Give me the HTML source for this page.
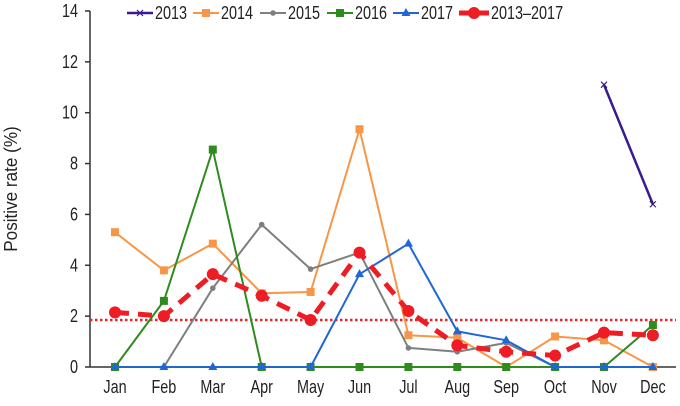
<!DOCTYPE html>
<html><head><meta charset="utf-8"><style>
body{margin:0;background:#fff}
svg{display:block;font-family:"Liberation Sans Narrow","Liberation Sans",sans-serif}
</style></head><body>
<svg id="c" width="680" height="406">
<text id="yt" x="17" y="189" font-size="18" fill="#222" text-anchor="middle" transform="rotate(-90 17 189)">Positive rate (%)</text>
</svg>
<script>
const months=["Jan","Feb","Mar","Apr","May","Jun","Jul","Aug","Sep","Oct","Nov","Dec"];
const yTicks=[0,2,4,6,8,10,12,14];
const s2013=[null,null,null,null,null,null,null,null,null,null,11.1,6.4];
const s2014=[5.3,3.8,4.85,2.9,2.95,9.35,1.25,1.15,0,1.2,1.05,0];
const s2015=[null,0,3.1,5.6,3.85,4.5,0.75,0.6,0.95,0,0,0];
const s2016=[0,2.6,8.55,0,0,0,0,0,0,0,0,1.65];
const s2017=[0,0,0,0,0,3.65,4.85,1.4,1.05,0,0,0];
const sAll=[2.15,2.0,3.65,2.8,1.85,4.5,2.2,0.85,0.6,0.45,1.35,1.25];
const refLine=1.85;
const NS="http://www.w3.org/2000/svg";
const svg=document.getElementById('c');
const X=i=>115+i*48.9;
const Y=v=>367-v*25.43;
function mk(t,a,p){const e=document.createElementNS(NS,t);for(const k in a)e.setAttribute(k,a[k]);(p||svg).appendChild(e);return e;}
function narrow(t,f){const w=t.getComputedTextLength();t.setAttribute('textLength',w*(f||0.8));t.setAttribute('lengthAdjust','spacingAndGlyphs');}
narrow(document.getElementById('yt'),0.95);
let ax=mk('line',{x1:90,y1:11,x2:90,y2:367,stroke:'#333','stroke-width':1.5});


let bx=mk('line',{x1:90,y1:367,x2:676,y2:367,stroke:'#333','stroke-width':1.5});


yTicks.forEach(v=>{
 mk('line',{x1:85,y1:Y(v),x2:90,y2:Y(v),stroke:'#333','stroke-width':1.5});
 const t=mk('text',{x:78,y:Y(v)+6,'font-size':18,'text-anchor':'end',fill:'#222'});
 t.textContent=v;
 
 
 narrow(t);
});
months.forEach((m,i)=>{
 const t=mk('text',{x:X(i),y:393,'font-size':18,'text-anchor':'middle',fill:'#222'});
 t.textContent=m;
 
 
 narrow(t);
});
let rl=mk('line',{x1:90,y1:Y(refLine),x2:676,y2:Y(refLine),stroke:'#e8242a','stroke-width':2.5,'stroke-dasharray':'2.5 2.5'});


function marker(g,type,x,y,c){
 if(type==='sq')mk('rect',{x:x-4,y:y-4,width:8,height:8,fill:c},g);
 else if(type==='dot')mk('circle',{cx:x,cy:y,r:2.8,fill:c},g);
 else if(type==='tri')mk('path',{d:`M${x} ${y-5}L${x+4.5} ${y+3}L${x-4.5} ${y+3}Z`,fill:c},g);
 else if(type==='x'){mk('path',{d:`M${x-3} ${y-3}L${x+3} ${y+3}M${x+3} ${y-3}L${x-3} ${y+3}`,stroke:c,'stroke-width':1.2},g);}
 else if(type==='big')mk('circle',{cx:x,cy:y,r:6,fill:c},g);
}
function series(data,c,w,type,name,dash){
 const g=mk('g',{});
 
 
 let d='',pen=false;
 data.forEach((v,i)=>{if(v==null){pen=false;return;}d+=(pen?'L':'M')+X(i)+' '+Y(v);pen=true;});
 const a={d:d,fill:'none',stroke:c,'stroke-width':w,'stroke-linejoin':'round'};
 if(dash)a['stroke-dasharray']=dash;
 mk('path',a,g);
 data.forEach((v,i)=>{if(v!=null)marker(g,type,X(i),Y(v),c);});
}
series(s2014,'#f79646',2,'sq','series-2014');
series(s2015,'#7f7f7f',2,'dot','series-2015');
series(s2016,'#2e8b1e',2,'sq','series-2016');
series(s2017,'#1f67d4',2,'tri','series-2017');
series(s2013,'#3a1a8c',2.5,'x','series-2013');
series(sAll,'#ee1c25',5,'big','series-2013-2017','14 9');
const leg=[['2013','#3a1a8c','x',127,2.5],['2014','#f79646','sq',193,2],['2015','#7f7f7f','dot',260,2],['2016','#2e8b1e','sq',327,2],['2017','#1f67d4','tri',393,2],['2013–2017','#ee1c25','big',459,5]];
leg.forEach(l=>{
 const g=mk('g',{});
 
 
 const len=l[0].length>4?30:26;
 mk('line',{x1:l[3],y1:13,x2:l[3]+len,y2:13,stroke:l[1],'stroke-width':l[4]},g);
 marker(g,l[2],l[3]+len/2,13,l[1]);
 const t=mk('text',{x:l[3]+len+2,y:19,'font-size':18,fill:'#222'},g);
 t.textContent=l[0];
 narrow(t);
});
</script>
</body></html>
